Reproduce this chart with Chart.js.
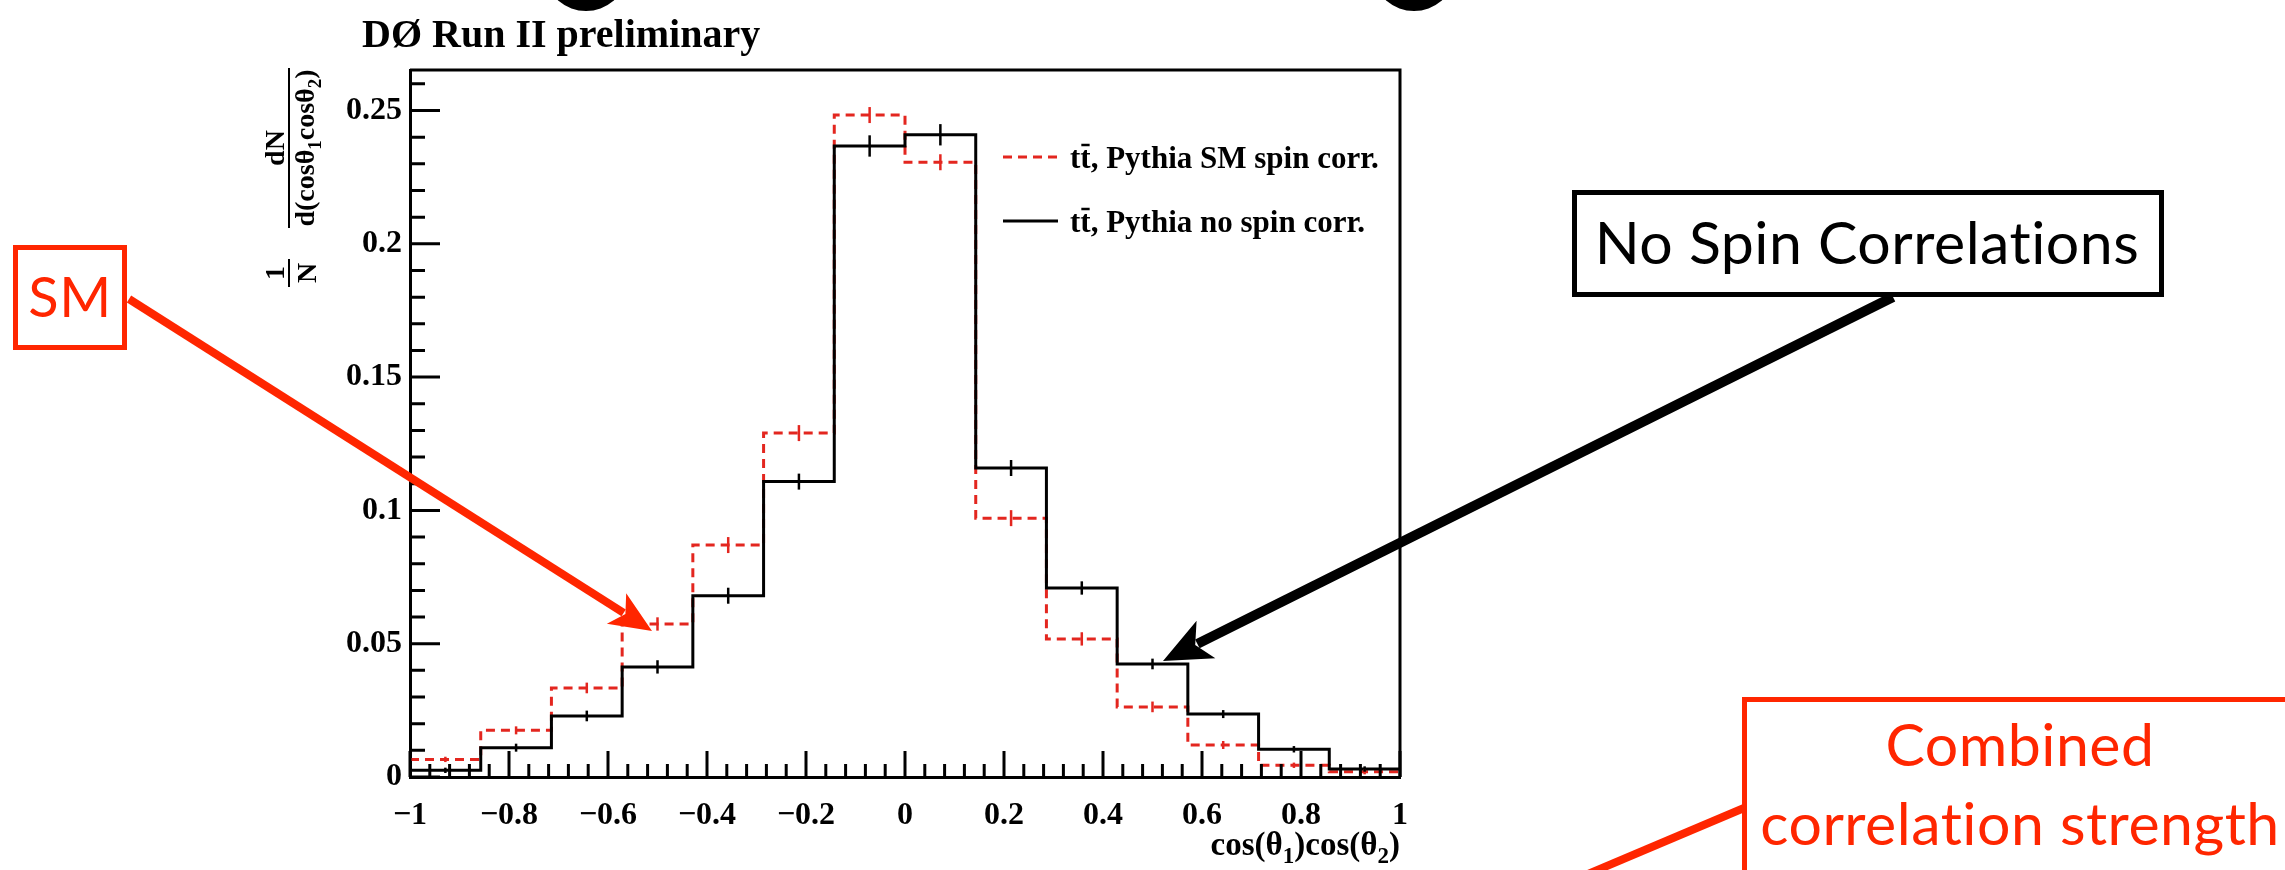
<!DOCTYPE html>
<html>
<head>
<meta charset="utf-8">
<script src="https://cdn.jsdelivr.net/npm/chart.js@4.4.1/dist/chart.umd.min.js"></script>
<style>
  html, body { margin: 0; padding: 0; background: #fff; }
  #wrap { position: relative; width: 2285px; height: 870px; }
</style>
</head>
<body>
<div id="wrap"><canvas id="c" width="2285" height="870"></canvas></div>
<script>
// cos(theta1)cos(theta2) distributions, 14 bins between -1 and 1
const binEdges = [-1, -0.8571, -0.7143, -0.5714, -0.4286, -0.2857, -0.1429, 0, 0.1429, 0.2857, 0.4286, 0.5714, 0.7143, 0.8571, 1];
const smSpinCorr = [0.0066, 0.0175, 0.0334, 0.0574, 0.0870, 0.1290, 0.2483, 0.2306, 0.0971, 0.0518, 0.0263, 0.0120, 0.0044, 0.0020];
const noSpinCorr = [0.0025, 0.0110, 0.0229, 0.0413, 0.0680, 0.1108, 0.2367, 0.2409, 0.1159, 0.0709, 0.0424, 0.0236, 0.0104, 0.0030];
const smSpinErr = [0.0010, 0.0015, 0.0020, 0.0025, 0.0030, 0.0030, 0.0030, 0.0030, 0.0030, 0.0025, 0.0020, 0.0015, 0.0010, 0.0010];
const noSpinErr = [0.0010, 0.0015, 0.0020, 0.0025, 0.0030, 0.0030, 0.0040, 0.0040, 0.0030, 0.0025, 0.0020, 0.0015, 0.0012, 0.0010];
const seriesNames = ['tt\u0304, Pythia SM spin corr.', 'tt\u0304, Pythia no spin corr.'];
const xTickValues = [-1, -0.8, -0.6, -0.4, -0.2, 0, 0.2, 0.4, 0.6, 0.8, 1];
const yTickValues = [0, 0.05, 0.1, 0.15, 0.2, 0.25];

const RED = '#e3261f';
const KEY_RED = '#ff2600';
const SERIF = '"Liberation Serif", "Times New Roman", serif';
const SANS = 'Lato, "Open Sans", sans-serif';

// step outline: one point per left bin edge, last edge repeats the last bin
function histPoints(vals) {
  return binEdges.map((e, i) => ({ x: e, y: vals[Math.min(i, vals.length - 1)] }));
}

function fmtX(v) {
  const s = String(+Math.abs(v).toFixed(1));
  return v < 0 ? '\u2212' + s : s;
}
function fmtY(v) {
  return String(+v.toFixed(2));
}

// text drawn piece by piece so subscripts can be lowered
function pieceWidth(ctx, parts, big, small) {
  let w = 0;
  parts.forEach(p => { ctx.font = p.sub ? small : big; w += ctx.measureText(p.t).width; });
  return w;
}
function drawPieces(ctx, parts, x, y, big, small, subDrop) {
  parts.forEach(p => {
    ctx.font = p.sub ? small : big;
    ctx.fillText(p.t, x, p.sub ? y + subDrop : y);
    x += ctx.measureText(p.t).width;
  });
}

function arrow(ctx, x1, y1, x2, y2, width, headLen, headHalf, color) {
  const dx = x2 - x1, dy = y2 - y1, len = Math.hypot(dx, dy);
  const ux = dx / len, uy = dy / len;
  ctx.strokeStyle = color;
  ctx.fillStyle = color;
  ctx.lineWidth = width;
  ctx.lineCap = 'butt';
  ctx.beginPath();
  ctx.moveTo(x1, y1);
  ctx.lineTo(x2 - ux * headLen * 0.8, y2 - uy * headLen * 0.8);
  ctx.stroke();
  const bx = x2 - ux * headLen, by = y2 - uy * headLen;
  ctx.beginPath();
  ctx.moveTo(x2, y2);
  ctx.lineTo(bx - uy * headHalf, by + ux * headHalf);
  ctx.lineTo(x2 - ux * headLen * 0.75, y2 - uy * headLen * 0.75);
  ctx.lineTo(bx + uy * headHalf, by - ux * headHalf);
  ctx.closePath();
  ctx.fill();
}

const rootStyle = {
  id: 'rootStyle',
  afterDatasetsDraw(chart) {
    const ctx = chart.ctx;
    const xs = chart.scales.x, ys = chart.scales.y;
    const a = chart.chartArea;

    // error bars at bin centres
    const bars = [[smSpinCorr, smSpinErr, RED], [noSpinCorr, noSpinErr, '#000']];
    ctx.save();
    ctx.lineWidth = 2.5;
    bars.forEach(([vals, errs, col]) => {
      ctx.strokeStyle = col;
      vals.forEach((v, i) => {
        const cx = xs.getPixelForValue((binEdges[i] + binEdges[i + 1]) / 2);
        ctx.beginPath();
        ctx.moveTo(cx, ys.getPixelForValue(v - errs[i]));
        ctx.lineTo(cx, ys.getPixelForValue(v + errs[i]));
        ctx.stroke();
      });
    });

    // frame top and right
    ctx.strokeStyle = '#000';
    ctx.lineWidth = 3;
    ctx.beginPath();
    ctx.moveTo(a.left, a.top);
    ctx.lineTo(a.right, a.top);
    ctx.lineTo(a.right, a.bottom);
    ctx.stroke();

    // inward ticks: y major 0.05 / minor 0.01, x major 0.2 / minor 0.04
    ctx.lineWidth = 3;
    ctx.beginPath();
    for (let k = 0; k <= 26; k++) {
      const py = ys.getPixelForValue(k * 0.01);
      ctx.moveTo(a.left, py);
      ctx.lineTo(a.left + (k % 5 === 0 ? 30 : 15), py);
    }
    for (let k = 0; k <= 50; k++) {
      const px = xs.getPixelForValue(-1 + k * 0.04);
      ctx.moveTo(px, a.bottom);
      ctx.lineTo(px, a.bottom - (k % 5 === 0 ? 26 : 13));
    }
    ctx.stroke();
    ctx.restore();
  },
  afterDraw(chart) {
    const ctx = chart.ctx;
    const a = chart.chartArea;
    ctx.save();
    ctx.fillStyle = '#000';
    ctx.textBaseline = 'alphabetic';

    // experiment tag
    ctx.font = 'bold 40px ' + SERIF;
    ctx.textAlign = 'left';
    ctx.fillText('D\u00D8 Run II preliminary', 362, 47);

    // legend
    const legendRows = [
      { name: seriesNames[0], color: RED, dash: [9, 6], y: 157 },
      { name: seriesNames[1], color: '#000', dash: [], y: 221 }
    ];
    legendRows.forEach(r => {
      ctx.strokeStyle = r.color;
      ctx.lineWidth = 3;
      ctx.setLineDash(r.dash);
      ctx.beginPath();
      ctx.moveTo(1003, r.y);
      ctx.lineTo(1058, r.y);
      ctx.stroke();
      ctx.setLineDash([]);
      ctx.font = 'bold 31px ' + SERIF;
      ctx.fillStyle = '#000';
      const txt = r.name.replace('\u0304', '');
      ctx.fillText(txt, 1070, r.y + 11);
      const tw = ctx.measureText('t').width;
      ctx.strokeStyle = '#000';
      ctx.lineWidth = 2.5;
      ctx.beginPath();
      ctx.moveTo(1070 + tw + 1, r.y - 12);
      ctx.lineTo(1070 + 2 * tw - 1, r.y - 12);
      ctx.stroke();
    });

    // x-axis title
    const big = 'bold 33px ' + SERIF, small = 'bold 23px ' + SERIF;
    const xTitle = [{ t: 'cos(\u03B8' }, { t: '1', sub: true }, { t: ')cos(\u03B8' }, { t: '2', sub: true }, { t: ')' }];
    ctx.fillStyle = '#000';
    drawPieces(ctx, xTitle, a.right - pieceWidth(ctx, xTitle, big, small), 855, big, small, 8);

    // y-axis title, rotated: 1/N dN / d(cos theta1 cos theta2)
    const yb = 'bold 28px ' + SERIF, ysm = 'bold 19px ' + SERIF;
    ctx.save();
    ctx.rotate(-Math.PI / 2);
    // in rotated space: x' = -screenY, y' = screenX
    ctx.textAlign = 'center';
    ctx.font = yb;
    ctx.fillText('1', -273, 284);
    ctx.fillText('N', -273, 316);
    ctx.fillText('dN', -148, 284);
    ctx.lineWidth = 2;
    ctx.strokeStyle = '#000';
    ctx.beginPath();
    ctx.moveTo(-287, 289); ctx.lineTo(-259, 289);
    ctx.moveTo(-228, 289); ctx.lineTo(-68, 289);
    ctx.stroke();
    ctx.textAlign = 'left';
    const den = [{ t: 'd(cos\u03B8' }, { t: '1', sub: true }, { t: 'cos\u03B8' }, { t: '2', sub: true }, { t: ')' }];
    drawPieces(ctx, den, -148 - pieceWidth(ctx, den, yb, ysm) / 2, 314, yb, ysm, 7);
    ctx.restore();

    // large title glyph tails at the top edge
    ctx.fillStyle = '#000';
    [586, 1414].forEach(cx => {
      ctx.beginPath();
      ctx.ellipse(cx, -22, 38, 33, 0, 0, Math.PI * 2);
      ctx.fill();
    });

    // call-out text: a hair of letter spacing keeps Lato from joining "ti"
    ctx.letterSpacing = '0.5px';

    // SM call-out
    ctx.strokeStyle = KEY_RED;
    ctx.lineWidth = 5;
    ctx.strokeRect(15.5, 247.5, 109, 100);
    ctx.fillStyle = KEY_RED;
    ctx.font = '56px ' + SANS;
    ctx.textAlign = 'center';
    ctx.textBaseline = 'middle';
    ctx.fillText('SM', 70, 299);
    arrow(ctx, 129, 299, 652, 631, 8, 42, 18, KEY_RED);

    // no spin correlation call-out
    ctx.strokeStyle = '#000';
    ctx.lineWidth = 5;
    ctx.strokeRect(1574.5, 192.5, 587, 102);
    ctx.fillStyle = '#000';
    ctx.font = '59px ' + SANS;
    ctx.fillText('No Spin Correlations', 1867, 245);
    arrow(ctx, 1893, 297, 1163, 661, 10, 48, 21, '#000');

    // combined strength call-out, running off the page
    ctx.strokeStyle = KEY_RED;
    ctx.lineWidth = 5;
    ctx.strokeRect(1744.5, 699.5, 700, 300);
    ctx.lineWidth = 8;
    ctx.beginPath();
    ctx.moveTo(1744, 808);
    ctx.lineTo(1588, 874);
    ctx.stroke();
    ctx.fillStyle = KEY_RED;
    ctx.font = '59px ' + SANS;
    ctx.textBaseline = 'alphabetic';
    ctx.fillText('Combined', 2020, 766);
    ctx.fillText('correlation strength', 2020, 845);

    ctx.restore();
  }
};

const tickFont = { family: SERIF, size: 32, weight: 'bold' };

new Chart(document.getElementById('c'), {
  type: 'line',
  data: {
    datasets: [
      {
        label: seriesNames[0],
        data: histPoints(smSpinCorr),
        borderColor: RED,
        borderWidth: 3,
        borderDash: [9, 6],
        stepped: 'before',
        pointRadius: 0,
        fill: false,
        order: 2
      },
      {
        label: seriesNames[1],
        data: histPoints(noSpinCorr),
        borderColor: '#000',
        borderWidth: 3,
        stepped: 'before',
        pointRadius: 0,
        fill: false,
        order: 1
      }
    ]
  },
  options: {
    responsive: false,
    animation: false,
    devicePixelRatio: 1,
    layout: { padding: { top: 70, right: 885, left: 0, bottom: 0 } },
    plugins: { legend: { display: false }, tooltip: { enabled: false } },
    scales: {
      x: {
        type: 'linear',
        min: -1,
        max: 1,
        afterBuildTicks: s => { s.ticks = xTickValues.map(v => ({ value: v })); },
        afterFit: s => { s.height = 93; },
        grid: { display: false, drawTicks: false },
        border: { display: true, color: '#000', width: 3 },
        ticks: { color: '#000', font: tickFont, padding: 20, maxRotation: 0, autoSkip: false, callback: v => fmtX(v) }
      },
      y: {
        type: 'linear',
        min: 0,
        max: 0.2652,
        afterBuildTicks: s => { s.ticks = yTickValues.map(v => ({ value: v })); },
        afterFit: s => { s.width = 410; },
        grid: { display: false, drawTicks: false },
        border: { display: true, color: '#000', width: 3 },
        ticks: { color: '#000', font: tickFont, padding: 8, autoSkip: false, callback: v => fmtY(v) }
      }
    }
  },
  plugins: [rootStyle]
});
</script>
</body>
</html>
